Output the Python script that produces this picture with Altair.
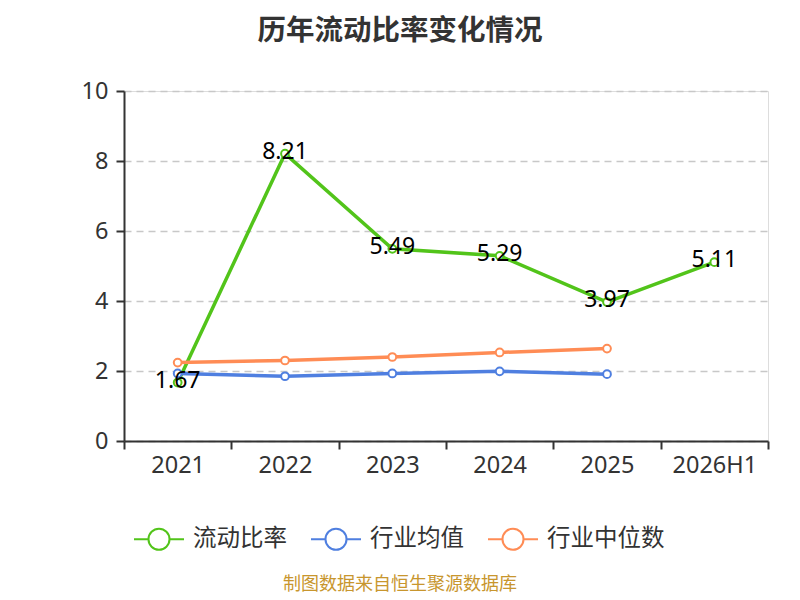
import altair as alt
import pandas as pd

years = ["2021", "2022", "2023", "2024", "2025", "2026H1"]
series_names = ["流动比率", "行业均值", "行业中位数"]
ratio = [1.67, 8.21, 5.49, 5.29, 3.97, 5.11]
ind_mean = [1.93, 1.85, 1.93, 1.99, 1.91, None]
ind_median = [2.24, 2.30, 2.40, 2.53, 2.64, None]
colors = ["#52C41A", "#4F7FE0", "#FF8C55"]
source_text = ["制图数据来自恒生聚源数据库"]

rows = []
for name, vals in zip(series_names, [ratio, ind_mean, ind_median]):
    for y, v in zip(years, vals):
        if v is not None:
            rows.append({"year": y, "series": name, "value": v})
df = pd.DataFrame(rows)
df_ratio = df[df["series"] == series_names[0]].copy()
df_ratio["label"] = df_ratio["value"].map(lambda v: f"{v:.2f}")

FONT = "'Noto Sans', 'Noto Sans CJK SC', sans-serif"

x_enc = alt.X("year:N", sort=years, title=None,
              scale=alt.Scale(paddingInner=0, paddingOuter=0),
              axis=alt.Axis(labelAngle=0, tickBand="extent", labelFontSize=23.5,
                            labelColor="#333333", labelFont=FONT, domainColor="#333333",
                            domainWidth=2, tickColor="#333333", tickWidth=2, tickSize=8,
                            labelPadding=4, grid=False))
y_enc = alt.Y("value:Q", title=None,
              scale=alt.Scale(domain=[0, 10], nice=False),
              axis=alt.Axis(values=[0, 2, 4, 6, 8, 10], labelFontSize=23.5, labelColor="#333333",
                            labelFont=FONT, domainColor="#333333", domainWidth=2,
                            tickColor="#333333", tickWidth=2, tickSize=8, labelPadding=8,
                            grid=True, gridColor="#c8c8c8", gridDash=[7, 5], gridWidth=1.5))

color_scale = alt.Scale(domain=series_names, range=colors)

legend_symbol = ("M-1,0L-0.42,0M0.42,0L1,0"
                 "M0.42,0A0.42,0.42 0 1,1 -0.42,0A0.42,0.42 0 1,1 0.42,0Z")

lines = alt.Chart(df).mark_line(strokeWidth=3.5).encode(
    x=x_enc, y=y_enc,
    color=alt.Color("series:N", scale=color_scale, sort=series_names, title=None,
                    legend=alt.Legend(orient="none", legendX=9, legendY=422,
                                      direction="horizontal", columns=3,
                                      symbolType=legend_symbol, symbolSize=2500,
                                      symbolStrokeWidth=2, symbolFillColor="white",
                                      labelFontSize=23.5, labelFont=FONT, labelColor="#333333",
                                      labelOffset=8, columnPadding=20, padding=0)),
    order=alt.Order("series:N"),
)

points = alt.Chart(df).mark_point(shape="circle", filled=False, fill="white", fillOpacity=1,
                                  size=60, strokeWidth=2, opacity=1).encode(
    x=alt.X("year:N", sort=years), y="value:Q",
    stroke=alt.Stroke("series:N", scale=color_scale, legend=None),
)

labels = alt.Chart(df_ratio).mark_text(fontSize=23, font=FONT, color="#000000",
                                       baseline="middle", align="center", dy=-2).encode(
    x=alt.X("year:N", sort=years), y="value:Q", text="label:N",
)

source = alt.Chart(pd.DataFrame({"t": source_text})).mark_text(
    fontSize=18, font="'Noto Sans CJK SC', sans-serif", color="#C8962E",
    align="center", baseline="middle").encode(
    x=alt.value(276), y=alt.value(494), text="t:N")

chart = alt.layer(lines, points, labels, source).properties(
    width=644, height=350,
    autosize=alt.AutoSizeParams(type="none"),
    padding={"left": 116, "top": 83, "right": 16, "bottom": 160},
    title=alt.TitleParams("历年流动比率变化情况", fontSize=28.5, fontWeight="bold",
                          font="'Noto Sans CJK SC', sans-serif", color="#333333",
                          anchor="middle", dx=-46, offset=34),
).configure_view(stroke=None).configure(background="white")

chart.save("out.html", embed_options={"renderer": "svg", "actions": False})
